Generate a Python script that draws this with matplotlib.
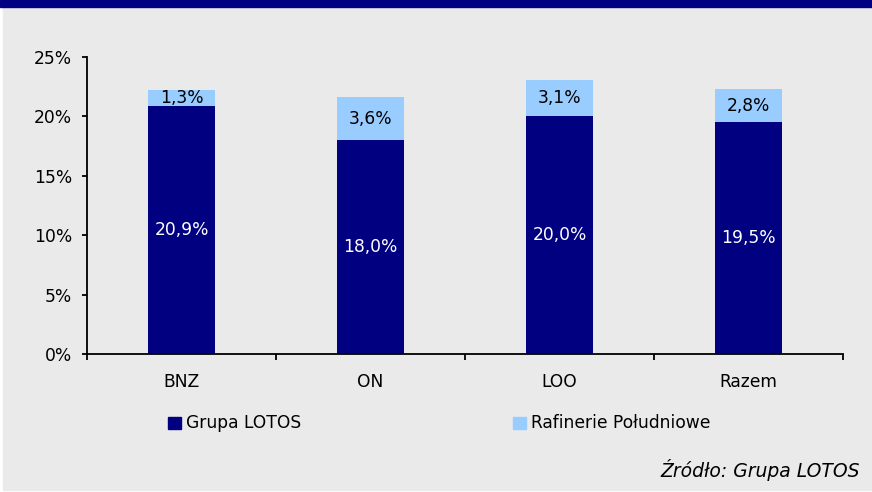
import matplotlib.pyplot as plt
import matplotlib.patches as mpatches
import numpy as np

# Dane
kategorie = ['BNZ', 'ON', 'LOO', 'Razem']
grupa_lotos = [20.9, 18.0, 20.0, 19.5]
rafinerie_poludniowe = [1.3, 3.6, 3.1, 2.8]
serie = ['Grupa LOTOS', 'Rafinerie Południowe']
zrodlo = 'Źródło: Grupa LOTOS'

kolor_ciemny = '#000080'
kolor_jasny = '#99CCFF'
tlo = '#EAEAEA'

W, H = 872, 492
fig = plt.figure(figsize=(W / 100, H / 100), dpi=100)
fig.patch.set_facecolor('white')
plt.rcParams['font.family'] = ['DejaVu Sans']

# tlo i pasek u gory
fig.patches.append(mpatches.Rectangle((3 / W, 2 / H), 1 - 3 / W, 1 - 2 / H,
                                      transform=fig.transFigure, color=tlo, zorder=-2))
fig.patches.append(mpatches.Rectangle((0, 1 - 7 / H), 1, 7 / H,
                                      transform=fig.transFigure, color=kolor_ciemny, zorder=-1))

ax = fig.add_axes([87 / W, (H - 354) / H, (843 - 87) / W, (354 - 57) / H])
ax.set_zorder(3)
ax.set_facecolor(tlo)

x = np.arange(len(kategorie))
szer = 0.35
ax.bar(x, grupa_lotos, szer, color=kolor_ciemny, label=serie[0])
ax.bar(x, rafinerie_poludniowe, szer, bottom=grupa_lotos, color=kolor_jasny, label=serie[1])

fs = 12.3
for xi, g, r in zip(x, grupa_lotos, rafinerie_poludniowe):
    ax.text(xi, g / 2, f'{g:.1f}%'.replace('.', ','), ha='center', va='center',
            color='white', fontsize=fs)
    ax.text(xi, g + r / 2, f'{r:.1f}%'.replace('.', ','), ha='center', va='center',
            color='black', fontsize=fs)

ax.set_xlim(-0.5, len(kategorie) - 0.5)
ax.set_ylim(0, 25)
ax.set_yticks(np.arange(0, 26, 5))
ax.set_yticklabels([f'{v}%' for v in range(0, 26, 5)], fontsize=fs)
ax.set_xticks(np.arange(-0.5, len(kategorie), 1))
ax.set_xticklabels([])
ax.set_xticks(x, minor=True)
ax.set_xticklabels(kategorie, minor=True, fontsize=fs)
ax.tick_params(axis='x', which='minor', length=0, pad=14)
ax.tick_params(axis='x', which='major', length=4.3, width=1.3, direction='out')
ax.tick_params(axis='y', length=3.6, width=1.3, direction='out', pad=7)
for s in ['top', 'right']:
    ax.spines[s].set_visible(False)
for s in ['left', 'bottom']:
    ax.spines[s].set_linewidth(1.3)

# legenda
for (lx, kol, nazwa) in [(168, kolor_ciemny, serie[0]), (513, kolor_jasny, serie[1])]:
    fig.patches.append(mpatches.Rectangle((lx / W, 1 - 429 / H), 13 / W, 12 / H,
                                          transform=fig.transFigure, color=kol, zorder=2))
    fig.text((lx + 18) / W, 1 - 423 / H, nazwa, ha='left', va='center', fontsize=fs)

fig.text(860 / W, 1 - 470 / H, zrodlo, ha='right', va='center', fontsize=13.5, style='italic')

fig.savefig('out.png', dpi=100, facecolor=fig.get_facecolor())
